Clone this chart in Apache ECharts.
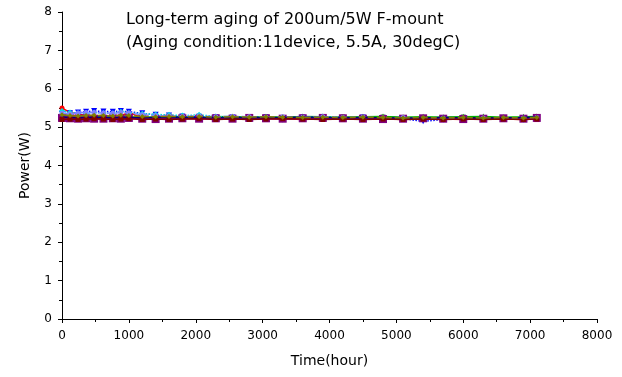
<!DOCTYPE html>
<html><head><meta charset="utf-8">
<script src="https://cdn.jsdelivr.net/npm/echarts@6/dist/echarts.min.js"></script>
<style>html,body{margin:0;padding:0;background:#fff}#c{width:622px;height:377px}</style>
</head><body><div id="c"></div>
<script>
const titleLines = ['Long-term aging of 200um/5W F-mount', '(Aging condition:11device, 5.5A, 30degC)'];
const xTicks = [0, 1000, 2000, 3000, 4000, 5000, 6000, 7000, 8000];
const yTicks = [0, 1, 2, 3, 4, 5, 6, 7, 8];
const times = [0,120,240,360,480,620,760,880,1000,1200,1400,1600,1800,2050,2300,2550,2800,3050,3300,3600,3900,4200,4500,4800,5100,5400,5700,6000,6300,6600,6900,7100];
const dev1 = [5.28,5.26,5.25,5.24,5.25,5.26,5.25,5.26,5.25,5.24,5.25,5.26,5.25,5.25,5.24,5.25,5.25,5.26,5.25,5.24,5.25,5.26,5.25,5.26,5.25,5.24,5.25,5.26,5.25,5.24,5.25,5.26];
const dev2 = [5.50,5.38,5.34,5.30,5.28,5.27,5.26,5.30,5.38,5.24,5.22,5.23,5.22,5.24,5.20,5.22,5.21,5.23,5.22,5.20,5.22,5.23,5.21,5.22,5.20,5.22,5.21,5.20,5.22,5.21,5.20,5.21];
const dev3 = [5.30,5.30,5.28,5.27,5.28,5.27,5.28,5.27,5.26,5.27,5.26,5.27,5.28,5.26,5.27,5.28,5.26,5.27,5.26,5.28,5.27,5.26,5.27,5.28,5.26,5.27,5.26,5.27,5.28,5.26,5.27,5.28];
const dev4 = [5.35,5.36,5.38,5.40,5.42,5.41,5.40,5.42,5.40,5.36,5.32,5.30,5.28,5.27,5.26,5.25,5.26,5.25,5.24,5.25,5.26,5.24,5.25,5.23,5.22,5.15,5.20,5.22,5.21,5.22,5.23,5.24];
const dev5 = [5.42,5.38,5.36,5.36,5.38,5.37,5.36,5.40,5.37,5.35,5.33,5.32,5.30,5.32,5.28,5.26,5.22,5.27,5.20,5.25,5.28,5.25,5.24,5.22,5.24,5.23,5.22,5.20,5.22,5.21,5.20,5.22];
const dev6 = [5.22,5.22,5.21,5.22,5.23,5.22,5.22,5.23,5.22,5.21,5.22,5.22,5.23,5.22,5.21,5.22,5.22,5.21,5.22,5.23,5.22,5.21,5.22,5.22,5.21,5.22,5.21,5.22,5.21,5.22,5.22,5.21];
const dev7 = [5.24,5.23,5.22,5.23,5.22,5.22,5.23,5.22,5.24,5.22,5.21,5.22,5.23,5.22,5.23,5.22,5.24,5.23,5.22,5.23,5.24,5.23,5.22,5.21,5.22,5.23,5.22,5.21,5.22,5.23,5.22,5.24];
const dev8 = [5.36,5.34,5.37,5.38,5.38,5.37,5.36,5.38,5.37,5.32,5.30,5.29,5.28,5.29,5.27,5.28,5.27,5.26,5.27,5.26,5.27,5.25,5.26,5.24,5.25,5.23,5.24,5.23,5.24,5.23,5.24,5.25];
const dev9 = [5.26,5.25,5.24,5.25,5.26,5.25,5.24,5.25,5.26,5.24,5.25,5.26,5.25,5.24,5.25,5.24,5.25,5.24,5.25,5.26,5.25,5.24,5.25,5.24,5.23,5.24,5.25,5.24,5.23,5.24,5.25,5.26];
const dev10 = [5.20,5.21,5.20,5.21,5.22,5.21,5.20,5.21,5.22,5.20,5.21,5.20,5.21,5.22,5.20,5.21,5.20,5.21,5.22,5.21,5.20,5.21,5.20,5.21,5.20,5.21,5.20,5.21,5.20,5.21,5.20,5.21];
const dev11 = [5.32,5.30,5.29,5.30,5.31,5.30,5.29,5.31,5.30,5.28,5.27,5.28,5.27,5.28,5.26,5.27,5.26,5.27,5.26,5.25,5.26,5.25,5.26,5.25,5.24,5.25,5.24,5.25,5.24,5.25,5.24,5.25];
const devices = [dev1, dev2, dev3, dev4, dev5, dev6, dev7, dev8, dev9, dev10, dev11];
const colors = ['#000000','#ff0000','#00b000','#0000ff','#00e0e0','#ff00ff','#800080','#8080ff','#000080','#800000','#808000'];
const symbols = ['rect','circle','triangle','path://M0,0L10,0L5,10Z','diamond','rect','rect','circle','triangle','rect','diamond'];
const lineTypes = ['solid','solid','solid','dotted','dotted','solid','solid','dashed','solid','solid','dashed'];
const sizes = [5,5,6,6,6,6,8,5,5,5,5];

const chart = echarts.init(document.getElementById('c'), null, {renderer:'canvas'});
const font = 'DejaVu Sans, sans-serif';
const axisCommon = {
  axisLine:{show:true,lineStyle:{color:'#000',width:1}},
  axisTick:{show:true,inside:false,length:4,lineStyle:{color:'#000'}},
  minorTick:{show:true,splitNumber:2,length:3,lineStyle:{color:'#000'}},
  splitLine:{show:false},
  axisLabel:{color:'#000',fontSize:12,fontFamily:font,formatter:v=>String(v)},
  nameTextStyle:{color:'#000',fontSize:14,fontFamily:font}
};
chart.setOption({
  animation:false,
  backgroundColor:'#fff',
  title:{text:titleLines.join('\n'),left:121,top:3,textStyle:{fontSize:16,fontWeight:'normal',color:'#000',fontFamily:font,lineHeight:23}},
  grid:{left:62,right:25,top:12,bottom:58,containLabel:false},
  xAxis:Object.assign({}, axisCommon, {type:'value',min:xTicks[0],max:xTicks[xTicks.length-1],interval:1000,
    name:'Time(hour)',nameLocation:'middle',nameGap:35,axisLabel:Object.assign({},axisCommon.axisLabel,{margin:11})}),
  yAxis:Object.assign({}, axisCommon, {type:'value',min:yTicks[0],max:yTicks[yTicks.length-1],interval:1,
    name:'Power(W)',nameLocation:'middle',nameGap:30,nameRotate:90,axisLabel:Object.assign({},axisCommon.axisLabel,{margin:10})}),
  series: devices.map((d,i)=>({
    type:'line',
    data: times.map((t,j)=>[t,d[j]]),
    symbol:symbols[i],symbolSize:sizes[i],showSymbol:true,
    lineStyle:{color:colors[i],width:1.5,type:lineTypes[i]},
    itemStyle:{color:colors[i]},
    z: 2+i
  }))
});
</script></body></html>
